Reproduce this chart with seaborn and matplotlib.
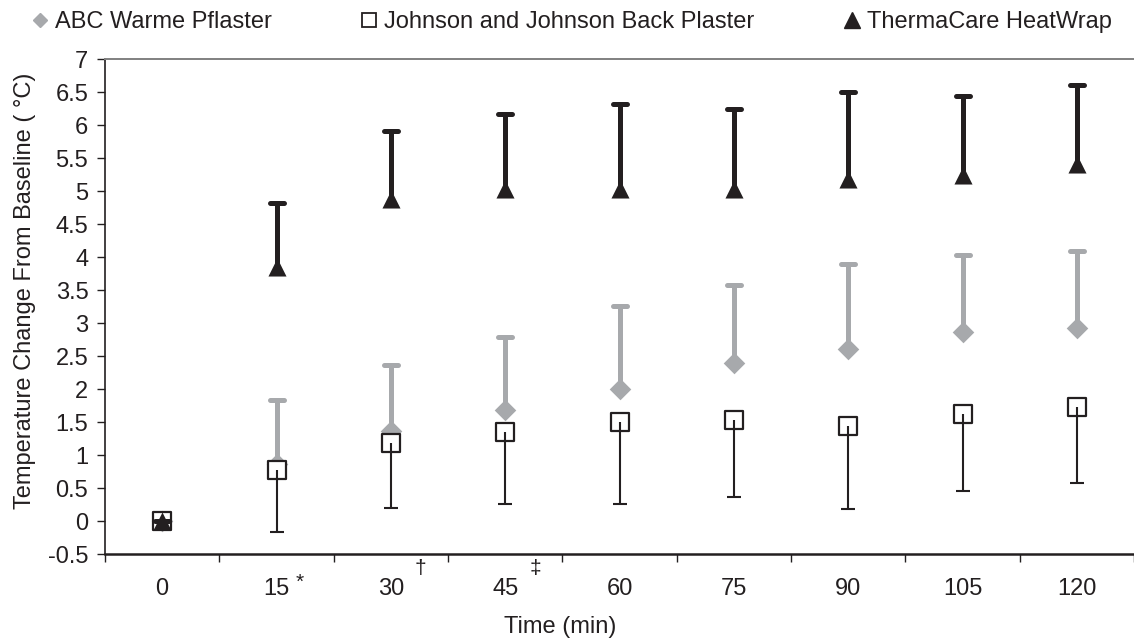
import numpy as np
import pandas as pd
import seaborn as sns
from matplotlib import pyplot as plt
from matplotlib.lines import Line2D
from matplotlib.markers import MarkerStyle
from matplotlib import transforms

TIMES = ["0", "15", "30", "45", "60", "75", "90", "105", "120"]

ABC_MEAN = [0, 0.86, 1.36, 1.69, 2.01, 2.40, 2.61, 2.86, 2.93]
ABC_UPPER = [0, 1.83, 2.36, 2.79, 3.26, 3.58, 3.90, 4.03, 4.09]

JJ_MEAN = [0, 0.78, 1.19, 1.35, 1.50, 1.53, 1.44, 1.62, 1.73]
JJ_LOWER = [0, -0.16, 0.20, 0.26, 0.26, 0.36, 0.18, 0.45, 0.58]

TC_MEAN = [0, 3.85, 4.89, 5.04, 5.04, 5.04, 5.19, 5.25, 5.42]
TC_UPPER = [0, 4.82, 5.92, 6.17, 6.32, 6.25, 6.51, 6.45, 6.62]

MARKS = {"*": "15", "\u2020": "30", "\u2021": "45"}

GRAY = "#a7a9ac"
BLACK = "#231f20"
FS = 17

sns.set_style("white")
plt.rcParams["font.family"] = ["Liberation Sans", "DejaVu Sans"]

df = pd.DataFrame({
    "Time": TIMES,
    "abc": ABC_MEAN,
    "jj": JJ_MEAN,
    "tc": TC_MEAN,
})


def one_sided(ax, mean, end, color, lw, cap, z, round_caps):
    mean = np.array(mean)
    end = np.array(end)
    up = end >= mean
    lower = np.where(up, 0, mean - end)
    upper = np.where(up, end - mean, 0)
    cont = ax.errorbar(np.arange(len(mean)), mean, yerr=[lower, upper], fmt="none",
                       ecolor=color, elinewidth=lw, capsize=cap, capthick=lw, zorder=z)
    caps = cont.lines[1]
    # only keep the cap on the side that has an error bar
    caps[0 if up.all() else 1].set_visible(False)
    for c in caps:
        if round_caps:
            c.set_marker(MarkerStyle("_", capstyle="round"))
    for lc in cont.lines[2]:
        lc.set_capstyle("butt")
    return cont


fig = plt.figure(figsize=(11.34, 6.41), dpi=100)
ax = fig.add_axes([0.0926, 0.1357, 0.9074, 0.7715])

# ABC Warme Pflaster: upper bars only
one_sided(ax, ABC_MEAN, ABC_UPPER, GRAY, 3.6, 5.2, 2, True)
sns.stripplot(data=df, x="Time", y="abc", order=TIMES, jitter=False, marker="D",
              color=GRAY, size=11, linewidth=0, ax=ax, zorder=2.1)

# Johnson and Johnson: lower bars only
sns.stripplot(data=df, x="Time", y="jj", order=TIMES, jitter=False, marker="s",
              color="white", edgecolor=BLACK, size=13, linewidth=1.6, ax=ax, zorder=3)
one_sided(ax, JJ_MEAN, [min(a, b) for a, b in zip(JJ_LOWER, JJ_MEAN)], BLACK, 1.5, 5, 3.1, False)

# ThermaCare HeatWrap: upper bars only
one_sided(ax, TC_MEAN, TC_UPPER, BLACK, 3.6, 5.2, 4, True)
sns.stripplot(data=df, x="Time", y="tc", order=TIMES, jitter=False, marker="^",
              color=BLACK, size=13, linewidth=0, ax=ax, zorder=4.1)

pos = np.arange(len(TIMES))
yt = np.arange(-0.5, 7.01, 0.5)
ax.set_xlim(-0.5, len(TIMES) - 0.5)
ax.set_ylim(-0.5, 7)
ax.set_yticks(yt)
ax.set_yticklabels([f"{v:g}" for v in yt])
ax.set_xticks(pos)
ax.set_xticklabels(TIMES)
ax.set_xticks(np.arange(-0.5, len(TIMES), 1.0), minor=True)

ax.tick_params(axis="x", which="major", length=0, pad=17, labelsize=FS, colors=BLACK)
ax.tick_params(axis="x", which="minor", length=6, width=1, direction="out", color=BLACK,
               bottom=True)
ax.tick_params(axis="y", which="major", length=6, width=1, direction="out", pad=6,
               labelsize=FS, colors=BLACK, left=True)

ax.spines["left"].set_color(BLACK)
ax.spines["left"].set_linewidth(1.2)
ax.spines["bottom"].set_color(BLACK)
ax.spines["bottom"].set_linewidth(1.8)
ax.spines["right"].set_visible(False)
ax.spines["top"].set_color("#808080")
ax.spines["top"].set_linewidth(1.4)

ax.set_xlabel("Time (min)", fontsize=FS, color=BLACK)
ax.xaxis.set_label_coords(0.442, -0.125)
ax.set_ylabel("Temperature Change From Baseline ( \u00b0C)", fontsize=FS, color=BLACK)
ax.yaxis.set_label_coords(-0.067, 0.533)

trans = transforms.blended_transform_factory(ax.transData, ax.transAxes)
for sym, t in MARKS.items():
    i = TIMES.index(t)
    off = 0.2 if sym == "*" else 0.26
    yy = -0.058 if sym == "*" else -0.03
    ax.text(i + off, yy, sym, transform=trans, ha="center", va="center", fontsize=15,
            color=BLACK)

handles = [
    Line2D([], [], marker="D", color=GRAY, linestyle="none", markersize=7.6),
    Line2D([], [], marker="s", markerfacecolor="white", markeredgecolor=BLACK,
           markeredgewidth=1.3, linestyle="none", markersize=10.5),
    Line2D([], [], marker="^", color=BLACK, linestyle="none", markersize=11.5),
]
labels = ["ABC Warme Pflaster", "Johnson and Johnson Back Plaster", "ThermaCare HeatWrap"]
fig.legend(handles, labels, loc="center left", bbox_to_anchor=(0.027, 0.9657), ncol=3,
           frameon=False, fontsize=FS, handlelength=0.8, handletextpad=0.24,
           columnspacing=3.72, borderaxespad=0, borderpad=0, labelcolor=BLACK)

fig.savefig("out.png", dpi=100)
